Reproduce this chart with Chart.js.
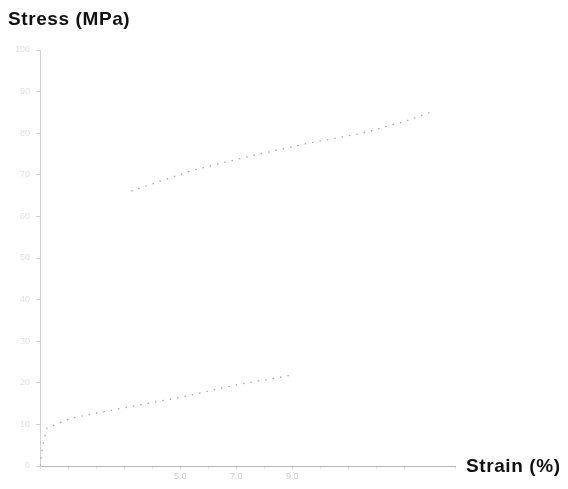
<!DOCTYPE html>
<html>
<head>
<meta charset="utf-8">
<script src="https://cdn.jsdelivr.net/npm/chart.js@4"></script>
<style>
  html, body { margin: 0; padding: 0; background: #fff; }
  #wrap { width: 568px; height: 489px; }
</style>
</head>
<body>
<div id="wrap"><canvas id="c" width="568" height="489"></canvas></div>
<script>
// Stress–strain curves (strain in %, stress in MPa)
const upperStrain = [3.25, 5.5, 7.5, 9.5, 11.5, 13.0, 13.96];
const upperStress = [66.1, 71.2, 74.5, 77.5, 80.0, 82.8, 85.1];
const lowerStrain = [0, 0.1, 0.25, 1.1, 3.0, 5.0, 7.0, 9.04];
const lowerStress = [0, 5.0, 9.1, 11.5, 14.0, 16.5, 19.5, 21.9];
const strainLabels = [5, 7, 9];

const toPoints = (xs, ys) => xs.map((x, i) => ({ x: x, y: ys[i] }));

const axisTitles = {
  id: 'axisTitles',
  afterDraw(chart) {
    const ctx = chart.ctx;
    const xs = chart.scales.x;
    ctx.save();
    ctx.fillStyle = '#111';
    ctx.font = '600 19px "Liberation Sans", Arial, sans-serif';
    if ('letterSpacing' in ctx) ctx.letterSpacing = '0.6px';
    ctx.textBaseline = 'middle';
    ctx.textAlign = 'left';
    ctx.fillText('Stress (MPa)', 8, 20);
    ctx.fillText('Strain (%)', xs.right + 11, xs.top + 1);
    ctx.restore();
  }
};

new Chart(document.getElementById('c'), {
  type: 'line',
  data: {
    datasets: [
      {
        data: toPoints(upperStrain, upperStress),
        borderColor: '#ababab',
        borderWidth: 1.3,
        borderDash: [1.5, 6],
        pointRadius: 0,
        tension: 0
      },
      {
        data: toPoints(lowerStrain, lowerStress),
        borderColor: '#ababab',
        borderWidth: 1.3,
        borderDash: [1.5, 6],
        pointRadius: 0,
        tension: 0
      }
    ]
  },
  options: {
    responsive: false,
    animation: false,
    layout: { padding: { left: 0, top: 50, right: 113, bottom: 0 } },
    plugins: { legend: { display: false }, tooltip: { enabled: false } },
    scales: {
      x: {
        type: 'linear',
        min: 0,
        max: 14.8,
        afterFit(scale) { scale.height = 23; },
        border: { display: true, color: '#b8b8b8', dash: [3, 3], width: 1 },
        grid: { drawOnChartArea: false, drawTicks: true, tickLength: 3, color: '#e2e2e2' },
        ticks: {
          stepSize: 1,
          color: '#cfcfcf',
          font: { size: 9, family: 'Liberation Sans' },
          padding: 2,
          callback: (v) => strainLabels.includes(v) ? v.toFixed(1) : ''
        }
      },
      y: {
        type: 'linear',
        min: 0,
        max: 100,
        afterFit(scale) { scale.width = 40; },
        border: { display: true, color: '#d0d0d0', dash: [2, 5], width: 1 },
        grid: { drawOnChartArea: false, drawTicks: true, tickLength: 4, color: '#d0d0d0' },
        ticks: {
          stepSize: 10,
          color: '#e2e2e2',
          font: { size: 9, family: 'Liberation Sans' },
          padding: 6
        }
      }
    }
  },
  plugins: [axisTitles]
});
</script>
</body>
</html>
